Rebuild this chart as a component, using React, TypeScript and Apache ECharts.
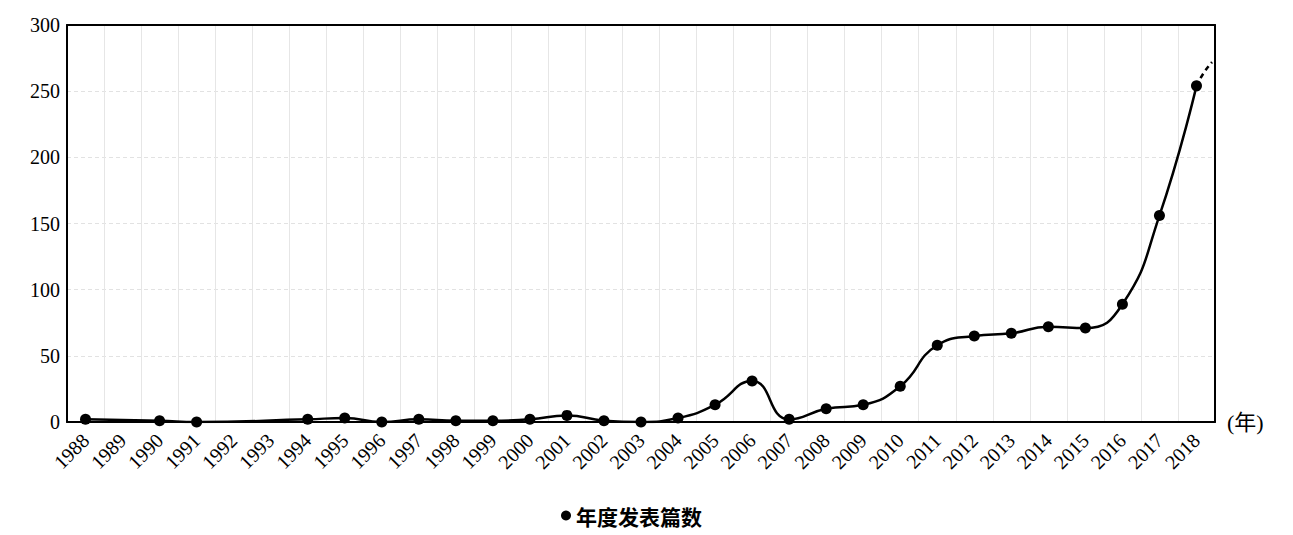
import React, { useEffect, useRef } from "react";
import * as echarts from "echarts";

const years = [
  "1988", "1989", "1990", "1991", "1992", "1993", "1994", "1995", "1996", "1997",
  "1998", "1999", "2000", "2001", "2002", "2003", "2004", "2005", "2006", "2007",
  "2008", "2009", "2010", "2011", "2012", "2013", "2014", "2015", "2016", "2017", "2018",
];

// years that have a published count (1989, 1992, 1993 have no point)
const pointYears = [
  "1988", "1990", "1991", "1994", "1995", "1996", "1997", "1998", "1999", "2000",
  "2001", "2002", "2003", "2004", "2005", "2006", "2007", "2008", "2009", "2010",
  "2011", "2012", "2013", "2014", "2015", "2016", "2017", "2018",
];
const counts = [
  2, 1, 0, 2, 3, 0, 2, 1, 1, 2,
  5, 1, 0, 3, 13, 31, 2, 10, 13, 27,
  58, 65, 67, 72, 71, 89, 156, 254,
];

// dashed trend beyond 2018 (x in category-index units)
const trendX = [30, 30.2, 30.42];
const trendY = [254, 264, 272];

const yTicks = { min: 0, max: 300, interval: 50 };
const seriesName = "年度发表篇数";
const xName = "(年)";

export default function App() {
  const ref = useRef<HTMLDivElement>(null);
  useEffect(() => {
    if (!ref.current) return;
    const chart = echarts.init(ref.current, undefined, { renderer: "svg" });
    const serif = "'Liberation Serif', 'Times New Roman', serif";
    const frame = { show: true, onZero: false, lineStyle: { color: "#000", width: 2 } };
    chart.setOption({
      animation: false,
      backgroundColor: "#fff",
      grid: {
        left: 67,
        top: 25,
        width: 1148,
        height: 397,
        show: false,
        containLabel: false,
      },
      legend: {
        data: [{ name: seriesName, icon: "circle" }],
        left: 556,
        top: 500,
        itemWidth: 10,
        itemHeight: 10,
        textStyle: {
          fontFamily: "'Noto Sans CJK SC', sans-serif",
          fontSize: 21,
          fontWeight: "bold",
          color: "#000",
        },
      },
      xAxis: [
        {
          type: "category",
          data: years,
          boundaryGap: true,
          name: xName,
          nameLocation: "end",
          nameGap: 12,
          nameTextStyle: {
            fontFamily: serif + ", 'Noto Sans CJK SC'",
            fontSize: 22,
            color: "#000",
            verticalAlign: "middle",
          },
          axisLine: frame,
          axisTick: { show: false },
          axisLabel: {
            interval: 0,
            rotate: 45,
            margin: 15,
            fontFamily: serif,
            fontSize: 20,
            color: "#000",
          },
          splitLine: {
            show: true,
            interval: 0,
            lineStyle: { color: "#e6e6e6", width: 1 },
          },
        },
        {
          type: "value",
          min: -0.5,
          max: 30.5,
          position: "top",
          gridIndex: 0,
          axisLine: frame,
          axisTick: { show: false },
          axisLabel: { show: false },
          splitLine: { show: false },
        },
      ],
      yAxis: [
        {
          type: "value",
          min: yTicks.min,
          max: yTicks.max,
          interval: yTicks.interval,
          axisLine: frame,
          axisTick: { show: false },
          axisLabel: {
            margin: 7,
            fontFamily: serif,
            fontSize: 20,
            color: "#000",
          },
          splitLine: {
            show: true,
            lineStyle: { color: "#e2e2e2", width: 1, type: [4, 3] },
          },
        },
        {
          type: "value",
          min: yTicks.min,
          max: yTicks.max,
          interval: yTicks.interval,
          position: "right",
          axisLine: frame,
          axisTick: { show: false },
          axisLabel: { show: false },
          splitLine: { show: false },
        },
      ],
      series: [
        {
          name: seriesName,
          type: "line",
          xAxisIndex: 0,
          yAxisIndex: 0,
          smooth: 0.5,
          data: pointYears.map((y, i) => [y, counts[i]]),
          symbol: "circle",
          symbolSize: 11,
          itemStyle: { color: "#000" },
          lineStyle: { color: "#000", width: 2.5 },
          z: 3,
        },
        {
          name: "trend",
          type: "line",
          xAxisIndex: 1,
          yAxisIndex: 0,
          smooth: 0.5,
          data: trendX.map((x, i) => [x, trendY[i]]),
          showSymbol: false,
          symbol: "none",
          lineStyle: { color: "#000", width: 2.5, type: [5, 4] },
          z: 2,
        },
      ],
    });
    return () => chart.dispose();
  }, []);
  return (
    <div
      ref={ref}
      style={{ position: "fixed", left: 0, top: 0, width: 1293, height: 535 }}
    />
  );
}
